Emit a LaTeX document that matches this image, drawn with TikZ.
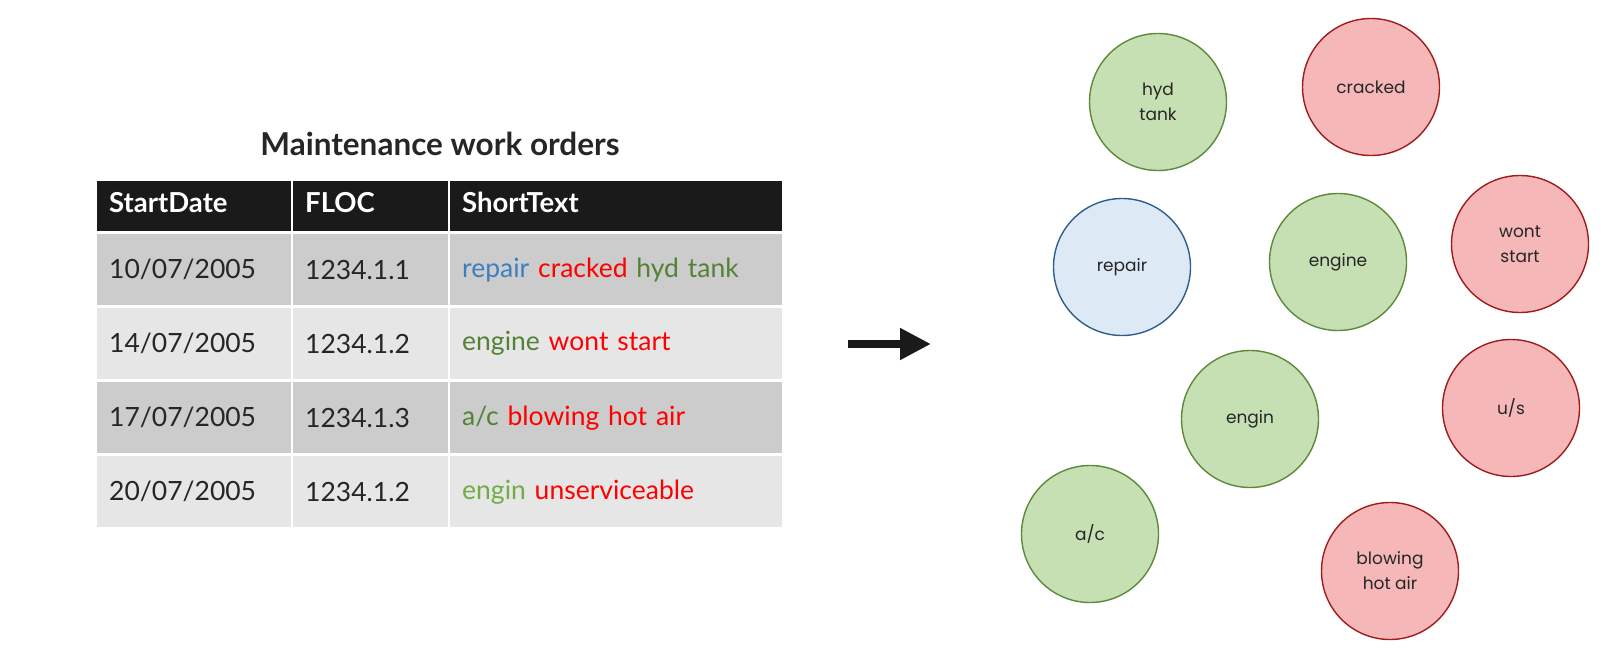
\documentclass[tikz,border=0pt]{standalone}
\usepackage{fontspec}
\setmainfont{Lato}
\newfontfamily\bubblefont{Poppins}
\usetikzlibrary{arrows.meta}
\definecolor{hdrgray}{HTML}{1A1A1A}
\definecolor{rowdark}{HTML}{CCCCCC}
\definecolor{rowlight}{HTML}{E6E6E6}
\definecolor{textgray}{HTML}{262626}
\definecolor{tagblue}{HTML}{3D7EBF}
\definecolor{tagred}{HTML}{FF0000}
\definecolor{taggreen}{HTML}{548235}
\definecolor{taglime}{HTML}{70AD47}
\definecolor{itemfill}{HTML}{C6E0B4}
\definecolor{itemline}{HTML}{5A8A3A}
\definecolor{problemfill}{HTML}{F5B7B7}
\definecolor{problemline}{HTML}{A01C1C}
\definecolor{activityfill}{HTML}{DDE9F5}
\definecolor{activityline}{HTML}{2E5F8A}
\begin{document}
\begin{tikzpicture}[x=1pt, y=-1pt,
	hcell/.style={anchor=north west, fill=hdrgray, text=white, align=left, inner xsep=12pt, inner ysep=0pt, minimum height=50pt, text depth=8pt, font=\fontsize{27.5}{32}\selectfont\bfseries},
	bcell/.style={anchor=north west, text=textgray, align=left, inner xsep=12pt, inner ysep=0pt, minimum height=71pt, font=\fontsize{26.5}{31}\selectfont},
	bubble/.style={circle, minimum size=137pt, inner sep=0pt, line width=1.4pt, draw, align=center, text=black!85, font=\bubblefont\fontsize{17}{25}\selectfont},
	item/.style={bubble, fill=itemfill, draw=itemline},
	problem/.style={bubble, fill=problemfill, draw=problemline},
	activity/.style={bubble, fill=activityfill, draw=activityline}]
	\useasboundingbox (0,0) rectangle (1603,650);
	% work order table
	\node (title) at (440,144) [text=textgray, font=\fontsize{31.5}{36}\selectfont\bfseries] {Maintenance work orders};
	\node (hDate) at (97,181)	[hcell, text width=170pt]	{StartDate};
	\node (hFloc) at (293,181)	[hcell, text width=131pt]	{FLOC};
	\node (hText) at (450,181)	[hcell, text width=308pt]	{ShortText};
	\node (d1) at (97,234)	[bcell, fill=rowdark, text width=170pt]	{10/07/2005};
	\node (f1) at (293,234)	[bcell, fill=rowdark, text width=131pt]	{1234.1.1};
	\node (t1) at (450,234)	[bcell, fill=rowdark, text width=308pt]	{\textcolor{tagblue}{repair} \textcolor{tagred}{cracked} \textcolor{taggreen}{hyd tank}};
	\node (d2) at (97,308)	[bcell, fill=rowlight, text width=170pt]	{14/07/2005};
	\node (f2) at (293,308)	[bcell, fill=rowlight, text width=131pt]	{1234.1.2};
	\node (t2) at (450,308)	[bcell, fill=rowlight, text width=308pt]	{\textcolor{taggreen}{engine} \textcolor{tagred}{wont start}};
	\node (d3) at (97,382)	[bcell, fill=rowdark, text width=170pt]	{17/07/2005};
	\node (f3) at (293,382)	[bcell, fill=rowdark, text width=131pt]	{1234.1.3};
	\node (t3) at (450,382)	[bcell, fill=rowdark, text width=308pt]	{\textcolor{taggreen}{a/c} \textcolor{tagred}{blowing hot air}};
	\node (d4) at (97,456)	[bcell, fill=rowlight, text width=170pt]	{20/07/2005};
	\node (f4) at (293,456)	[bcell, fill=rowlight, text width=131pt]	{1234.1.2};
	\node (t4) at (450,456)	[bcell, fill=rowlight, text width=308pt]	{\textcolor{taglime}{engin} \textcolor{tagred}{unserviceable}};
	% arrow
	\coordinate (arrS) at (848,344);
	\coordinate (arrE) at (931,344);
	\draw[hdrgray, line width=8pt, -{Triangle[length=31pt, width=30pt]}] (arrS) -- (arrE);
	% extracted terms
	\node (hydtank) at (1158,102)	[item]		{hyd\\tank};
	\node (cracked) at (1371,87)	[problem]	{cracked};
	\node (repair) at (1122,267)	[activity]	{repair};
	\node (engine) at (1338,262)	[item]		{engine};
	\node (wontstart) at (1520,244)	[problem]	{wont\\start};
	\node (engin) at (1250,419)	[item]		{engin};
	\node (us) at (1511,408)	[problem]	{u/s};
	\node (ac) at (1090,534)	[item]		{a/c};
	\node (blowing) at (1390,571)	[problem]	{blowing\\hot air};
\end{tikzpicture}
\end{document}
